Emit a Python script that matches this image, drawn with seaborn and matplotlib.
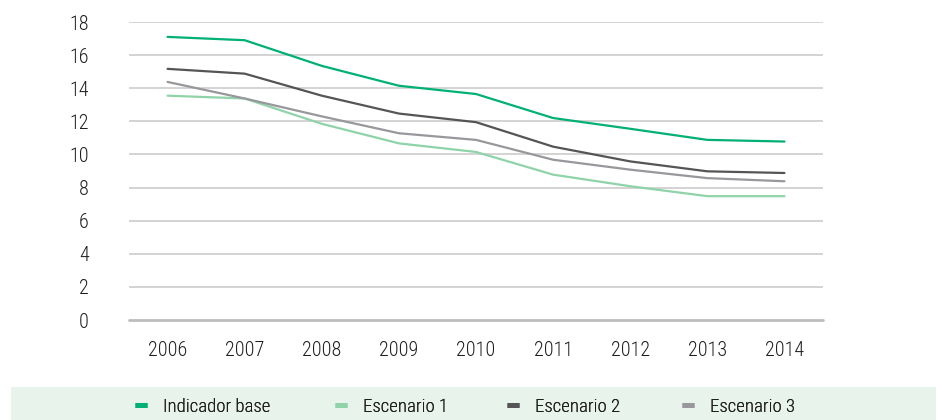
import numpy as np
import pandas as pd
import matplotlib.pyplot as plt
import seaborn as sns
from matplotlib import font_manager
from matplotlib.lines import Line2D
from matplotlib.patches import Rectangle

# Data
years = [2006, 2007, 2008, 2009, 2010, 2011, 2012, 2013, 2014]
indicador_base = [17.1, 16.9, 15.35, 14.15, 13.65, 12.2, 11.55, 10.88, 10.78]
escenario_1 = [13.55, 13.38, 11.85, 10.67, 10.15, 8.78, 8.08, 7.48, 7.48]
escenario_2 = [15.17, 14.88, 13.55, 12.47, 11.95, 10.47, 9.58, 8.98, 8.88]
escenario_3 = [14.38, 13.38, 12.3, 11.28, 10.88, 9.68, 9.08, 8.57, 8.38]

series_names = ['Indicador base', 'Escenario 1', 'Escenario 2', 'Escenario 3']
colors = ['#00b074', '#8fd3a9', '#555557', '#98989c']

df = pd.DataFrame({
    'year': years * 4,
    'value': indicador_base + escenario_1 + escenario_2 + escenario_3,
    'serie': sum([[n] * len(years) for n in series_names], []),
})

sns.set_style('white')

# pick a condensed face if one is installed
available = set(f.name for f in font_manager.fontManager.ttflist)
candidates = ['Roboto Condensed', 'Archivo Narrow', 'PT Sans Narrow', 'Liberation Sans Narrow',
              'Fira Sans Condensed', 'Encode Sans Condensed', 'Barlow Condensed', 'Roboto']
font = next((c for c in candidates if c in available), 'DejaVu Sans')
plt.rcParams['font.family'] = [font, 'DejaVu Sans']
plt.rcParams['font.weight'] = 'light'

fig = plt.figure(figsize=(9.36, 4.2), dpi=100)
ax = fig.add_axes([129 / 936, 100 / 420, 694 / 936, 298 / 420])

sns.lineplot(data=df, x='year', y='value', hue='serie', palette=colors,
             hue_order=series_names, linewidth=1.6, legend=False, ax=ax, zorder=3)

ax.set_xlim(2005.5, 2014.5)
ax.set_ylim(0, 18)
ax.set_yticks(range(0, 19, 2))
ax.set_xticks(years)
ax.set_xlabel('')
ax.set_ylabel('')

# grid lines
for v in range(2, 19, 2):
    ax.axhline(v, color='#d3d3d3', linewidth=1.4, zorder=1)
ax.axhline(0, color='#bdbdbd', linewidth=2.0, zorder=1, clip_on=False)

for s in ax.spines.values():
    s.set_visible(False)

ax.tick_params(axis='y', length=0, pad=29, labelsize=14.5, labelcolor='#1e1e1e')
ax.tick_params(axis='x', length=0, pad=15, labelsize=14.5, labelcolor='#1e1e1e')

# legend band
fig.patches.append(Rectangle((11 / 936, 0), 1, 33 / 420, transform=fig.transFigure,
                             facecolor='#e8f3eb', edgecolor='none', zorder=0))

# one legend entry per slot so positions don't depend on text widths
slots = [135, 335, 507, 682]
for name, c, xpx in zip(series_names, colors, slots):
    h = Line2D([0], [0], color=c, linewidth=3.5, solid_capstyle='butt')
    leg = fig.legend([h], [name], loc='center left', bbox_to_anchor=(xpx / 936, 13 / 420),
                     frameon=False, fontsize=13.5, handlelength=0.64, handletextpad=0.85,
                     borderpad=0, borderaxespad=0, labelcolor='#1e1e1e')
    fig.add_artist(leg)

fig.savefig('out.png', dpi=100)
